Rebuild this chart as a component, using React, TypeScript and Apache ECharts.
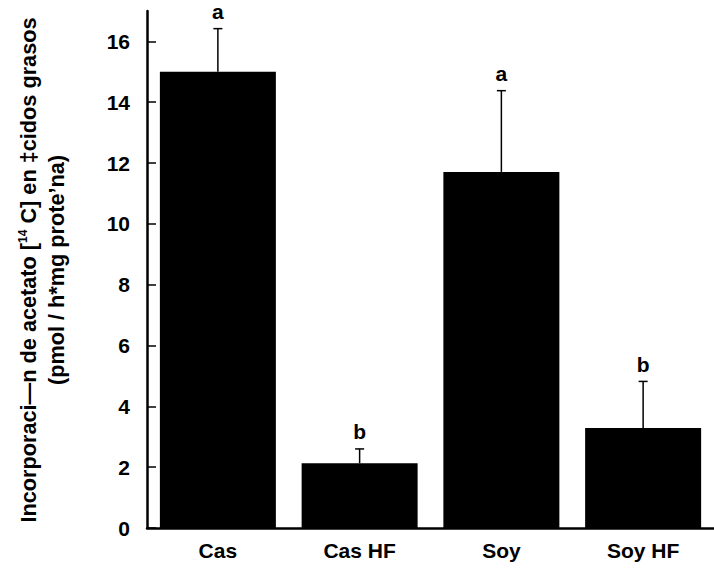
import React, { useEffect, useRef } from "react";
import * as echarts from "echarts";

const categories = ["Cas", "Cas HF", "Soy", "Soy HF"];
const means = [15.0, 2.13, 11.71, 3.29];
const errorTops = [16.42, 2.6, 14.38, 4.82];
const letters = ["a", "b", "a", "b"];
const yTicks = [0, 2, 4, 6, 8, 10, 12, 14, 16];
const yTitle1 = "Incorporaci—n de acetato [{sup|14} C] en ‡cidos grasos";
const yTitle2 = "(pmol / h*mg prote’na)";

const FONT = "'Liberation Sans', Arial, Helvetica, sans-serif";

export default function App() {
  const ref = useRef<HTMLDivElement>(null);
  useEffect(() => {
    if (!ref.current) return;
    const chart = echarts.init(ref.current, undefined, { renderer: "svg" });
    const errData = categories.map((_, i) => [i, means[i], errorTops[i]]);
    chart.setOption({
      animation: false,
      backgroundColor: "#fff",
      grid: { left: 147, top: 11, width: 572, height: 517, containLabel: false },
      xAxis: {
        type: "category",
        data: categories,
        boundaryGap: true,
        axisLine: { lineStyle: { color: "#000", width: 2.5 } },
        axisTick: { inside: true, length: 8, lineStyle: { color: "#000", width: 1.5 } },
        axisLabel: { color: "#000", fontSize: 21, fontWeight: "bold", fontFamily: FONT, margin: 12 },
      },
      yAxis: {
        type: "value",
        min: 0,
        max: 17,
        interval: 2,
        splitLine: { show: false },
        axisLine: { show: true, lineStyle: { color: "#000", width: 2.5 } },
        axisTick: { show: true, inside: true, length: 9, customValues: yTicks, lineStyle: { color: "#000", width: 1.5 } },
        axisLabel: { color: "#000", fontSize: 21, fontWeight: "bold", fontFamily: FONT, margin: 17, customValues: yTicks },
      },
      series: [
        {
          type: "bar",
          data: means,
          barWidth: 116,
          itemStyle: { color: "#000" },
          z: 2,
        },
        {
          type: "custom",
          data: errData,
          z: 3,
          renderItem: (params: any, api: any) => {
            const i = api.value(0);
            const base = api.coord([i, api.value(1)]);
            const top = api.coord([i, api.value(2)]);
            const letter = letters[params.dataIndex];
            return {
              type: "group",
              children: [
                { type: "line", shape: { x1: base[0], y1: base[1], x2: top[0], y2: top[1] }, style: { stroke: "#000", lineWidth: 1.5 } },
                { type: "line", shape: { x1: top[0] - 4.5, y1: top[1], x2: top[0] + 4.5, y2: top[1] }, style: { stroke: "#000", lineWidth: 1.5 } },
                {
                  type: "text",
                  x: top[0],
                  y: top[1] - 17,
                  style: { text: letter, fill: "#000", font: `bold 21px ${FONT}`, align: "center", verticalAlign: "middle" },
                },
              ],
            };
          },
        },
      ],
      graphic: [
        {
          type: "text",
          x: 28,
          y: 270,
          rotation: Math.PI / 2,
          style: {
            text: yTitle1,
            fill: "#000",
            fontSize: 21.7,
            fontWeight: "bold",
            fontFamily: FONT,
            align: "center",
            verticalAlign: "middle",
            rich: {
              sup: { fontSize: 12, fontWeight: "bold", fontFamily: FONT, fill: "#000", verticalAlign: "top" },
            },
          },
        },
        {
          type: "text",
          x: 56,
          y: 270,
          rotation: Math.PI / 2,
          style: {
            text: yTitle2,
            fill: "#000",
            fontSize: 21.7,
            fontWeight: "bold",
            fontFamily: FONT,
            align: "center",
            verticalAlign: "middle",
          },
        },
      ],
    });
    return () => chart.dispose();
  }, []);
  return <div ref={ref} style={{ width: 714, height: 571, position: "fixed", left: 0, top: 0 }} />;
}
